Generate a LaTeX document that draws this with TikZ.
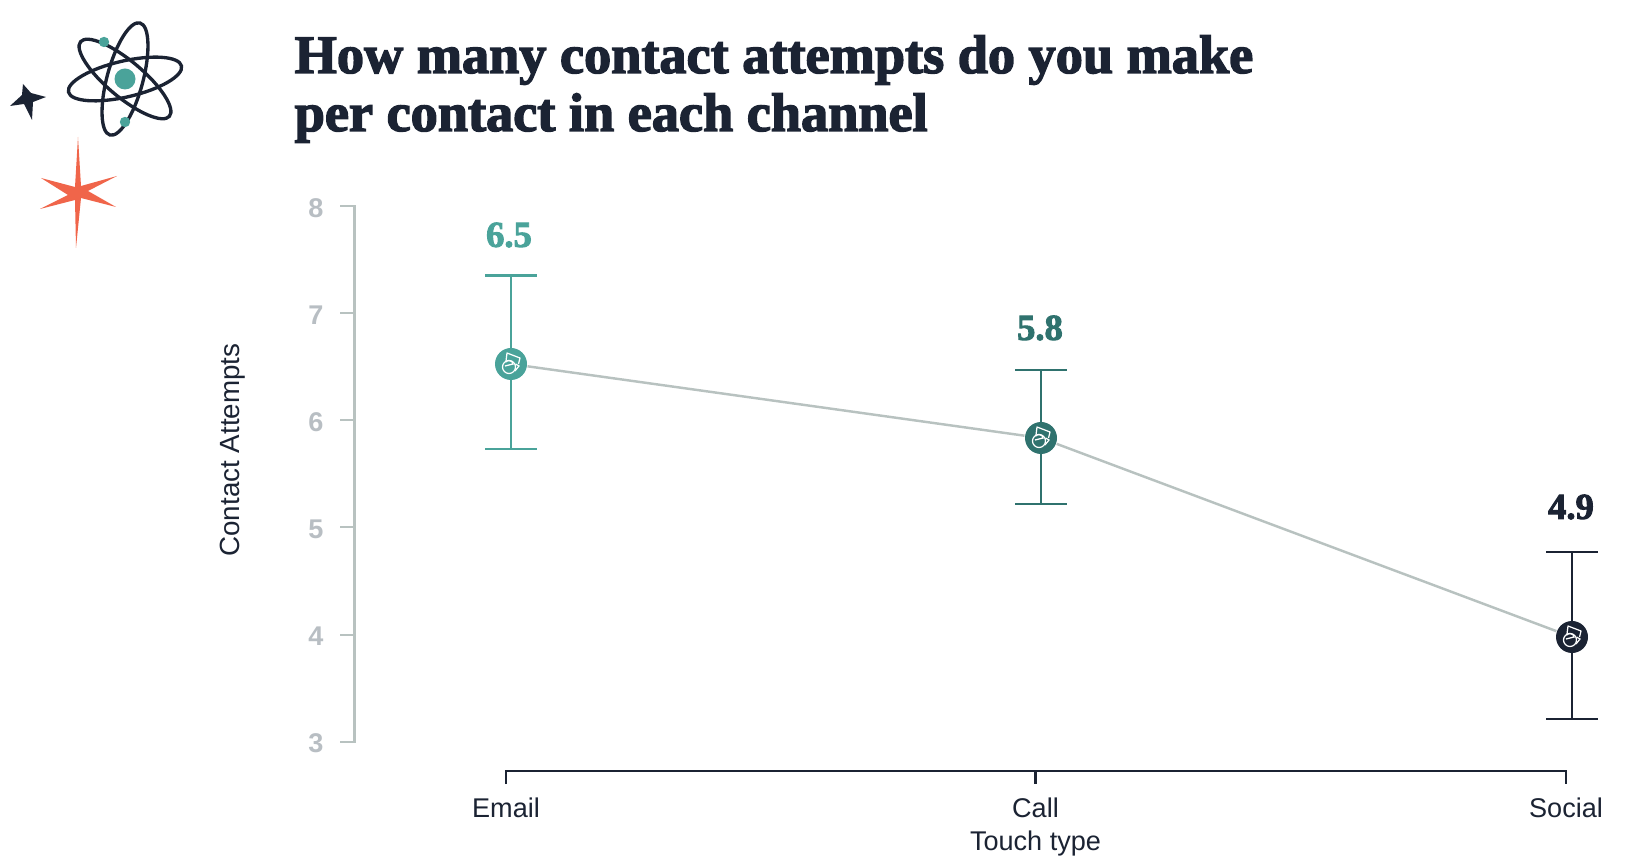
\documentclass[tikz,border=0pt]{standalone}
\usepackage{fontspec}
\setmainfont{Liberation Sans}
\newfontfamily\headfont[BoldFeatures={FakeBold=2.6}]{Liberation Serif}
\definecolor{inkblue}{HTML}{1B2333}
\definecolor{tealmid}{HTML}{4AA39A}
\definecolor{tealdark}{HTML}{2F726E}
\definecolor{linegray}{HTML}{B8C2C0}
\definecolor{tickgray}{HTML}{B8BEC3}
\definecolor{flare}{HTML}{F0654A}
\tikzset{
    axisgray/.style={draw=linegray,line width=0.7pt},
    axisink/.style={draw=inkblue,line width=0.65pt},
    ticklabel/.style={text=tickgray,font=\fontsize{7.7}{9}\selectfont\bfseries},
    catlabel/.style={text=inkblue,font=\fontsize{7.7}{9}\selectfont},
    valuelabel/.style={font=\headfont\fontsize{10.4}{12}\selectfont\bfseries},
    marker/.style={circle,inner sep=0pt,minimum size=9.1pt},
    orbit/.style={draw=inkblue,line width=0.95pt},
    agent/.pic={
        \draw[white,line width=0.35pt,line join=round] (-5,-3) -- (-4,-11) -- (9,-6) -- (7.5,0);
        \draw[white,line width=0.35pt] (-2,3) ellipse (6.5 and 6.5);
        \draw[white,line width=0.35pt] (-6,2) -- (2,0) arc (0:-150:4 and 3.5);
        \draw[white,line width=0.35pt] (4.5,0) -- (8,2) -- (4,7);
    }
}
\begin{document}
\begin{tikzpicture}[x=0.01cm,y=-0.01cm]
    \useasboundingbox (0,0) rectangle (1630,864);
    % atom and stars
    \begin{scope}
        \draw[orbit,rotate around={13:(125,79)}] (125,79) ellipse (58 and 18);
        \draw[orbit,rotate around={-40:(125,79)}] (125,79) ellipse (58 and 18);
        \draw[orbit,rotate around={75:(125,79)}] (125,79) ellipse (58 and 18);
        \fill[white] (125,79) circle (12.5);
        \fill[tealmid] (125,79) circle (10.5);
        \fill[tealmid] (104,42) circle (5.2);
        \fill[tealmid] (125,122) circle (5.2);
        \fill[inkblue] (23,84) -- (31,93) -- (46,97) -- (33,102) -- (32,120) -- (24,104) -- (10,106) -- (22,95) -- cycle;
        \fill[flare] (78,137) -- (81,186) -- (117,176) -- (88,191) -- (116,207) -- (81,198) -- (76,248) -- (75,200) -- (40,209) -- (68,195) -- (41,178) -- (75,187) -- cycle;
    \end{scope}
    % title
    \node[anchor=base west,inner sep=0pt,text=inkblue,font=\headfont\fontsize{15.43}{17}\selectfont\bfseries] (titleone) at (294,73) {How many contact attempts do you make};
    \node[anchor=base west,inner sep=0pt,text=inkblue,font=\headfont\fontsize{15.43}{17}\selectfont\bfseries] (titletwo) at (294,131) {per contact in each channel};
    % y axis
    \draw[axisgray] (340,206) -- (354.5,206) -- (354.5,742) -- (340,742);
    \draw[axisgray] (340,313) -- (354.5,313);
    \draw[axisgray] (340,420) -- (354.5,420);
    \draw[axisgray] (340,527) -- (354.5,527);
    \draw[axisgray] (340,635) -- (354.5,635);
    \node[ticklabel] (yeight) at (316,208) {8};
    \node[ticklabel] (yseven) at (316,315) {7};
    \node[ticklabel] (ysix) at (316,422) {6};
    \node[ticklabel] (yfive) at (316,529) {5};
    \node[ticklabel] (yfour) at (316,636) {4};
    \node[ticklabel] (ythree) at (316,743) {3};
    \node[catlabel,rotate=90,font=\fontsize{7.9}{9}\selectfont] (ytitle) at (233,450) {Contact Attempts};
    % x axis
    \draw[axisink] (506,784) -- (506,771) -- (1566,771) -- (1566,784);
    \draw[axisink] (1035.5,771) -- (1035.5,784);
    \node[catlabel] (xemail) at (506,808) {Email};
    \node[catlabel] (xcall) at (1035.5,808) {Call};
    \node[catlabel] (xsocial) at (1566,808) {Social};
    \node[catlabel] (xtitle) at (1035.5,843) {Touch type};
    % channels
    \begin{scope}[shift={(511,364)}]
        \draw[tealmid,line width=0.6pt] (-26,-88.5) -- (26,-88.5);
        \draw[tealmid,line width=0.6pt] (-26,85) -- (26,85);
        \draw[tealmid,line width=0.6pt] (0,-88.5) -- (0,85);
        \node[marker,fill=tealmid] (email) at (0,0) {};
        \pic at (0,0) {agent};
        \node[valuelabel,text=tealmid] (emailvalue) at (-2,-129) {6.5};
    \end{scope}
    \begin{scope}[shift={(1041,438)}]
        \draw[tealdark,line width=0.6pt] (-26,-68) -- (26,-68);
        \draw[tealdark,line width=0.6pt] (-26,66) -- (26,66);
        \draw[tealdark,line width=0.6pt] (0,-68) -- (0,66);
        \node[marker,fill=tealdark] (call) at (0,0) {};
        \pic at (0,0) {agent};
        \node[valuelabel,text=tealdark] (callvalue) at (-1,-110) {5.8};
    \end{scope}
    \begin{scope}[shift={(1572,637)}]
        \draw[inkblue,line width=0.6pt] (-26,-85) -- (26,-85);
        \draw[inkblue,line width=0.6pt] (-26,82) -- (26,82);
        \draw[inkblue,line width=0.6pt] (0,-85) -- (0,82);
        \node[marker,fill=inkblue] (social) at (0,0) {};
        \pic at (0,0) {agent};
        \node[valuelabel,text=inkblue] (socialvalue) at (-1,-130) {4.9};
    \end{scope}
    \draw[axisgray] (email) -- (call);
    \draw[axisgray] (call) -- (social);
\end{tikzpicture}
\end{document}
